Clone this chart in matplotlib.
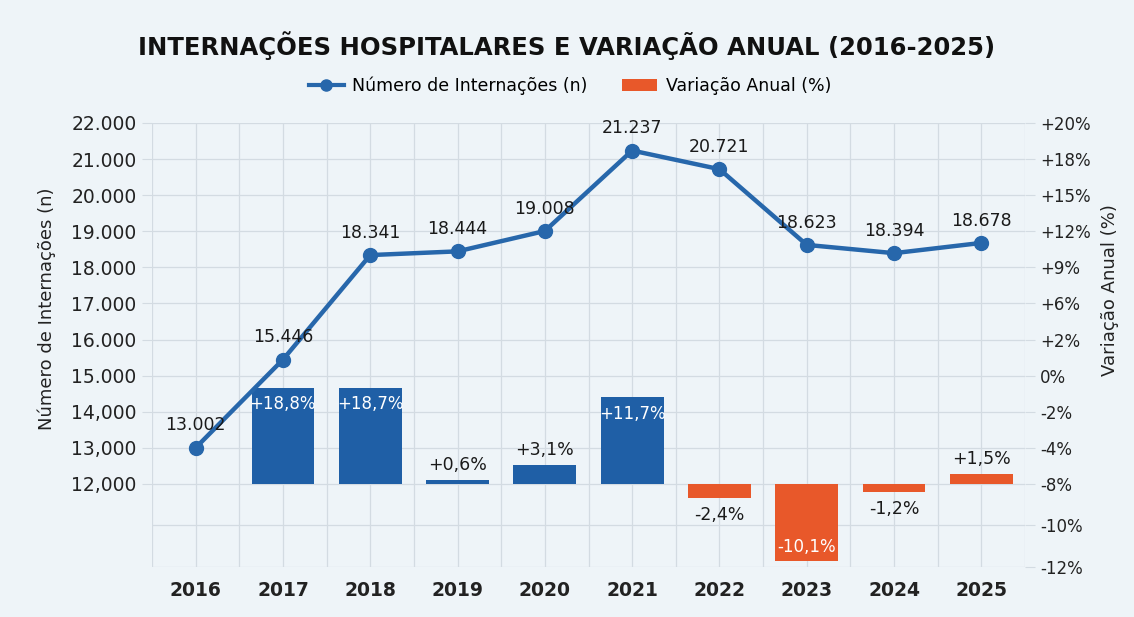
import matplotlib
matplotlib.use("Agg")
import matplotlib.pyplot as plt
from matplotlib.lines import Line2D
from matplotlib.patches import Patch

# dados
anos = ["2016", "2017", "2018", "2019", "2020", "2021", "2022", "2023", "2024", "2025"]
internacoes = [13002, 15446, 18341, 18444, 19008, 21237, 20721, 18623, 18394, 18678]
rotulos_n = ["13.002", "15.446", "18.341", "18.444", "19.008", "21.237", "20.721", "18.623", "18.394", "18.678"]
variacao = [None, 18.8, 18.7, 0.6, 3.1, 11.7, -2.4, -10.1, -1.2, 1.5]
rotulos_var = ["", "+18,8%", "+18,7%", "+0,6%", "+3,1%", "+11,7%", "-2,4%", "-10,1%", "-1,2%", "+1,5%"]
# altura desenhada das barras (unidades do eixo esquerdo, a partir de 12.000)
barra_altura = [0, 2665, 2660, 97, 530, 2400, -380, -2120, -210, 280]

ticks_esq = [12000, 13000, 14000, 15000, 16000, 17000, 18000, 19000, 20000, 21000, 22000]
ticks_esq_lbl = ["12,000", "13,000", "14,000", "15.000", "16.000", "17.000", "18.000",
                 "19.000", "20.000", "21.000", "22.000"]
ticks_dir = [9700, 10850, 12000, 13000, 14000, 15000, 16000, 17000, 18000, 19000, 20000, 21000, 22000]
ticks_dir_lbl = ["-12%", "-10%", "-8%", "-4%", "-2%", "0%", "+2%", "+6%", "+9%", "+12%", "+15%", "+18%", "+20%"]

BASE = 12000
azul = "#1f5fa6"
azul_linha = "#2767ab"
laranja = "#e8582a"
fundo = "#eef4f8"
grade = "#d3dbe2"
texto = "#1a1a1a"

plt.rcParams['font.family'] = ['DejaVu Sans']

fig = plt.figure(figsize=(11.34, 6.17), dpi=100, facecolor=fundo)
ax = fig.add_axes([152/1134, 1 - 567/617, (1025-152)/1134, (567-123)/617])
ax.set_facecolor(fundo)

x = list(range(len(anos)))

# grade: linhas a cada ano e a cada meio ano
for xv in [i * 0.5 - 0.5 for i in range(21)]:
    ax.axvline(xv, color=grade, lw=0.9, zorder=0)
for yv in ticks_dir:
    ax.axhline(yv, color=grade, lw=0.9, zorder=0)

# barras de variacao (azul ate 2021, laranja depois)
for i in range(1, len(anos)):
    h = barra_altura[i]
    cor = azul if i <= 5 else laranja
    ax.bar(x[i], h, bottom=BASE, width=0.72, color=cor, zorder=2)
    if abs(h) > 1000:
        yy = BASE + h - 450 if h > 0 else BASE + h + 380
        ax.text(x[i], yy, rotulos_var[i], ha="center", va="center", color="white",
                fontsize=12, zorder=5)
    elif h > 0:
        ax.text(x[i], BASE + h + 420, rotulos_var[i], ha="center", va="center",
                color=texto, fontsize=12.5, zorder=5)
    else:
        ax.text(x[i], BASE + h - 480, rotulos_var[i], ha="center", va="center",
                color=texto, fontsize=12.5, zorder=5)

# linha de internacoes
ax.plot(x, internacoes, color=azul_linha, lw=3.2, marker="o", markersize=10, zorder=4)
for i in x:
    ax.text(x[i], internacoes[i] + 620, rotulos_n[i], ha="center", va="center",
            color=texto, fontsize=12.5, zorder=5)

ax.set_xlim(-0.5, 9.5)
ax.set_ylim(9700, 22000)
ax.set_xticks(x)
ax.set_xticklabels(anos, fontsize=13.5, fontweight="bold", color="#222222")
ax.set_yticks(ticks_esq)
ax.set_yticklabels(ticks_esq_lbl, fontsize=13.5, color="#222222")
ax.tick_params(axis="x", length=0, pad=10)
ax.tick_params(axis="y", length=7, color=grade, pad=4)
for s in ax.spines.values():
    s.set_visible(False)

ax2 = ax.twinx()
ax2.set_ylim(ax.get_ylim())
ax2.set_yticks(ticks_dir)
ax2.set_yticklabels(ticks_dir_lbl, fontsize=12, color="#222222")
ax2.tick_params(axis="y", length=7, color=grade, pad=4)
for s in ax2.spines.values():
    s.set_visible(False)

fig.text(47/1134, 1 - 309/617, "Número de Internações (n)", rotation=90, ha="center",
         va="center", fontsize=13, color="#222222")
fig.text(1110/1134, 1 - 290/617, "Variação Anual (%)", rotation=90, ha="center",
         va="center", fontsize=13, color="#222222")

fig.text(0.5, 1 - 46/617, "INTERNAÇÕES HOSPITALARES E VARIAÇÃO ANUAL (2016-2025)",
         ha="center", va="center", fontsize=17.5, fontweight="bold", color="#111111")

handles = [Line2D([0], [0], color=azul_linha, lw=3, marker="o", markersize=8),
           Patch(facecolor=laranja)]
fig.legend(handles, ["Número de Internações (n)", "Variação Anual (%)"],
           loc="center", bbox_to_anchor=(570/1134, 1 - 86/617), ncol=2, frameon=False,
           fontsize=12.5, handlelength=2.0, columnspacing=2.0, handletextpad=0.5)

fig.savefig("out.png", dpi=100, facecolor=fundo)
